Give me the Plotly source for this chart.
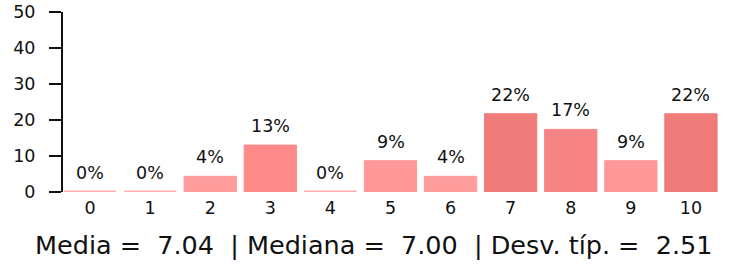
import plotly.graph_objects as go

categories = ["0", "1", "2", "3", "4", "5", "6", "7", "8", "9", "10"]
percents = [0, 0, 4.35, 13.04, 0, 8.70, 4.35, 21.74, 17.39, 8.70, 21.74]
labels = ["0%", "0%", "4%", "13%", "0%", "9%", "4%", "22%", "17%", "9%", "22%"]
colors = ["#FFB0B0", "#FFB0B0", "#FF9C9C", "#FF8A8A", "#FFB0B0", "#FF9898",
          "#FF9C9C", "#F07B7B", "#F68484", "#FF9898", "#F07B7B"]
y_ticks = [0, 10, 20, 30, 40, 50]
summary = "Media =  7.04  | Mediana =  7.00  | Desv. típ. =  2.51"

FONT = "DejaVu Sans, Liberation Sans, Arial, sans-serif"
xs = list(range(len(categories)))

fig = go.Figure()
fig.add_trace(go.Bar(
    x=xs, y=percents,
    marker=dict(color=colors, line=dict(color=colors, width=1)),
    width=0.87, hoverinfo="skip",
))
# thin stub so that empty categories still show a baseline mark
stub = [0.45 if p == 0 else 0 for p in percents]
fig.add_trace(go.Bar(
    x=xs, y=stub, base=[0] * len(xs),
    marker=dict(color="#FFB0B0", line=dict(width=0)),
    width=0.87, hoverinfo="skip",
))

for x, v, t in zip(xs, percents, labels):
    fig.add_annotation(x=x, y=v, text=t, showarrow=False, yanchor="bottom",
                       yshift=7, font=dict(size=17.5, color="#111111", family=FONT))

fig.add_annotation(x=(373 - 63) / 658, xref="paper", y=-(245 - 192) / 180, yref="paper",
                   yanchor="middle", text=summary,
                   showarrow=False, font=dict(size=25.5, color="#111111", family=FONT))

fig.update_layout(
    width=730, height=274,
    margin=dict(l=63, r=9, t=12, b=82),
    paper_bgcolor="white", plot_bgcolor="white",
    showlegend=False, barmode="overlay",
    font=dict(family=FONT, color="#111111"),
)
fig.update_xaxes(range=[-0.45, 10.5], tickmode="array", tickvals=xs, ticktext=categories,
                 showgrid=False, zeroline=False, showline=False, ticks="",
                 ticklabelstandoff=3, automargin=False,
                 tickfont=dict(size=17.5, color="#111111"))
fig.update_yaxes(range=[0, 50], tickmode="array", tickvals=y_ticks,
                 showgrid=False, zeroline=False, showline=True, linecolor="#111111",
                 linewidth=2, ticks="outside", ticklen=12, tickwidth=2, tickcolor="#111111",
                 ticklabelstandoff=10, automargin=False,
                 tickfont=dict(size=17.5, color="#111111"))

fig.write_html("out.html", config={"displayModeBar": False, "staticPlot": True},
               post_script="document.body.style.margin='0';document.body.style.overflow='hidden';")
